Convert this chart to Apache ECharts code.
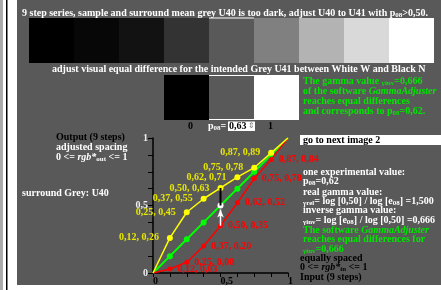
<!DOCTYPE html>
<html>
<head>
<meta charset="utf-8">
<script src="https://cdn.jsdelivr.net/npm/echarts@6/dist/echarts.min.js"></script>
<style>
  html, body { margin: 0; padding: 0; background: #fff; }
  #main { width: 441px; height: 290px; }
</style>
</head>
<body>
<div id="main"></div>
<script>
// 9 step series data
const inputX = [0, 0.125, 0.25, 0.375, 0.5, 0.625, 0.75, 0.875, 1];
const outYellow = [0, 0.26, 0.45, 0.55, 0.63, 0.71, 0.78, 0.89, 1];
const outGreen = [0, 0.125, 0.25, 0.375, 0.5, 0.625, 0.75, 0.875, 1];
const outRed = [0, 0.03, 0.08, 0.20, 0.35, 0.52, 0.70, 0.84, 1];
// grey steps of the strip and the three patches
const stepGreys = ['#000000', '#070707', '#121212', '#333333', '#595959', '#808080', '#b3b3b3', '#d9d9d9', '#ffffff'];
const patchGreys = ['#000000', '#595959', '#ffffff'];
const yTickLabels = { 0: '0', 0.5: '0,5', 1: '1' };
const xTickLabels = { 0: '0', 0.5: '0,5', 1: '1' };

const SURROUND = '#595959';
const SERIF = '"Liberation Serif", "DejaVu Serif", serif';

const chart = echarts.init(document.getElementById('main'), null, { renderer: 'canvas' });

// number like 0,12 (cut, not rounded)
function fmt(v) {
  return (Math.floor(v * 100 + 1e-9) / 100).toFixed(2).replace('.', ',');
}

function pairs(ys) {
  return inputX.map((x, i) => [x, ys[i]]);
}

// text helper for the graphic component
function txt(x, y, text, fill, extra) {
  return {
    type: 'text', x: x, y: y, z: 10,
    style: Object.assign({
      text: text, fill: fill,
      fontFamily: SERIF, fontWeight: 'bold', fontSize: 10,
      verticalAlign: 'middle'
    }, extra || {})
  };
}

const sub = { fontSize: 7, fontFamily: SERIF, fontWeight: 'bold', verticalAlign: 'bottom', lineHeight: 11, padding: [3, 0, 0, 0] };
function richStyle(fill) {
  return {
    a: { fontSize: 10, fontFamily: SERIF, fontWeight: 'bold', fill: fill, lineHeight: 11 },
    i: { fontSize: 10, fontFamily: SERIF, fontWeight: 'bold', fontStyle: 'italic', fill: fill, lineHeight: 11 },
    s: Object.assign({ fill: fill }, sub)
  };
}
function rtxt(x, y, text, fill) {
  return txt(x, y, text, fill, { rich: richStyle(fill) });
}

const graphics = [];
// left border lines
graphics.push({ type: 'rect', shape: { x: 0, y: 0, width: 3, height: 290 }, style: { fill: '#aaaaaa' }, z: 0 });
graphics.push({ type: 'rect', shape: { x: 6, y: 0, width: 1.5, height: 290 }, style: { fill: '#000' }, z: 0 });
// surround
graphics.push({ type: 'rect', shape: { x: 17, y: 0, width: 424, height: 285 }, style: { fill: SURROUND }, z: 0 });
// step strip
stepGreys.forEach((c, i) => {
  graphics.push({ type: 'rect', shape: { x: 29 + i * 45, y: 18, width: 45, height: 45 }, style: { fill: c }, z: 1 });
});
graphics.push({ type: 'rect', shape: { x: 209, y: 17.5, width: 45, height: 1 }, style: { fill: '#fff' }, z: 2 });
// patches
patchGreys.forEach((c, i) => {
  graphics.push({ type: 'rect', shape: { x: 164 + i * 45, y: 75, width: 45, height: 45 }, style: { fill: c }, z: 1 });
});
graphics.push({ type: 'rect', shape: { x: 209, y: 75, width: 45, height: 1 }, style: { fill: '#fff' }, z: 2 });
graphics.push({ type: 'rect', shape: { x: 209, y: 119, width: 45, height: 1 }, style: { fill: '#fff' }, z: 2 });

// titles
graphics.push(rtxt(22, 13, '{a|9 step series, sample and surround mean grey U40 is too dark, adjust U40 to U41 with p}{s|08}{a|>0,50.}', '#fff'));
graphics.push(txt(52, 69, 'adjust visual equal difference for the intended Grey U41 between White W and Black N', '#fff'));

// green note right of the patches
const GREEN = '#00e600';
graphics.push(rtxt(303, 81, '{a|The gamma value }{s|γinv}{a|=0,666}', GREEN));
graphics.push(rtxt(303, 91, '{a|of the software }{i|GammaAdjuster}', GREEN));
graphics.push(txt(303, 101, 'reaches equal differences', GREEN));
graphics.push(rtxt(303, 111, '{a|and corresponds to p}{s|08}{a|=0,62.}', GREEN));

// scale under the patches
graphics.push(txt(188, 126, '0', '#000'));
graphics.push(rtxt(208, 126, '{a|p}{s|08}{a|=}', '#fff'));
graphics.push({ type: 'rect', shape: { x: 228, y: 121.5, width: 27, height: 9.5 }, style: { fill: '#fff' }, z: 5 });
graphics.push(txt(229, 126, '0,63', '#000'));
graphics.push(txt(248, 126, '⇕', '#777', { fontFamily: '"DejaVu Sans"', fontWeight: 'normal', fontSize: 8 }));
graphics.push(txt(268, 126, '1', '#000'));

// left text
graphics.push(txt(56, 137, 'Output (9 steps)', '#000'));
graphics.push(txt(56, 147, 'adjusted spacing', '#fff'));
graphics.push(rtxt(56, 157, '{a|0 <= }{i|rgb*}{s|out}{a| <= 1}', '#fff'));
graphics.push(txt(22, 193, 'surround Grey: U40', '#fff'));

// right text
graphics.push({ type: 'rect', shape: { x: 300, y: 135, width: 141, height: 10 }, style: { fill: '#fff' }, z: 5 });
graphics.push(txt(303, 140, 'go to next image 2', '#000'));
graphics.push(txt(303, 172, 'one experimental value:', '#fff'));
graphics.push(rtxt(303, 181, '{a|p}{s|08}{a|=0,62}', '#fff'));
graphics.push(txt(303, 192, 'real gamma value:', '#fff'));
graphics.push(rtxt(303, 201, '{s|γrel}{a|= log [0,50] / log [e}{s|08}{a|] =1,500}', '#fff'));
graphics.push(txt(303, 210, 'inverse gamma value:', '#fff'));
graphics.push(rtxt(303, 220, '{s|γinv}{a|= log [e}{s|08}{a|] / log [0,50] =0,666}', '#fff'));
graphics.push(rtxt(303, 230, '{a|The software }{i|GammaAdjuster}', GREEN));
graphics.push(txt(303, 239, 'reaches equal differences for', GREEN));
graphics.push(rtxt(303, 249, '{s|γinv}{a|=0,666}', GREEN));
graphics.push(txt(300, 258, 'equally spaced', '#000'));
graphics.push(rtxt(300, 267, '{a|0 <= }{i|rgb*}{s|in}{a| <= 1}', '#000'));
graphics.push(txt(300, 277, 'Input (9 steps)', '#000'));

function endHidden(size) {
  return (val, params) => (params.dataIndex === 0 || params.dataIndex === inputX.length - 1 ? 0 : size);
}

const labelFont = { fontFamily: SERIF, fontWeight: 'bold', fontSize: 10 };

chart.setOption({
  animation: false,
  backgroundColor: '#fff',
  graphic: graphics,
  grid: {
    left: 153, top: 138, width: 135, height: 135,
    show: true, borderColor: '#000', borderWidth: 1.5, backgroundColor: 'transparent'
  },
  xAxis: {
    type: 'value', min: 0, max: 1, interval: 0.125,
    axisLine: { lineStyle: { color: '#000', width: 1.5 } },
    axisTick: { show: true, length: 4, lineStyle: { color: '#000' } },
    splitLine: { show: false },
    axisLabel: Object.assign({
      color: '#000', margin: 3, align: 'left',
      formatter: v => xTickLabels[v] || ''
    }, labelFont)
  },
  yAxis: {
    type: 'value', min: 0, max: 1, interval: 0.125,
    axisLine: { lineStyle: { color: '#000', width: 1.5 } },
    axisTick: { show: true, length: 5, lineStyle: { color: '#000' } },
    splitLine: { show: false },
    axisLabel: Object.assign({
      color: '#eee', margin: 5,
      formatter: v => yTickLabels[v] || ''
    }, labelFont)
  },
  series: [
    {
      name: 'equal', type: 'line', z: 2,
      data: pairs(outGreen).map((p, i) => (i === 4 ? { value: p, itemStyle: { color: '#fff' } } : p)),
      symbol: 'circle', symbolSize: endHidden(6),
      lineStyle: { color: '#00ff00', width: 2 },
      itemStyle: { color: '#00ff00' }
    },
    {
      name: 'red', type: 'line', z: 3,
      data: pairs(outRed),
      symbol: 'circle', symbolSize: endHidden(5),
      lineStyle: { color: '#ff0000', width: 1.5 },
      itemStyle: { color: '#ff0000' },
      label: Object.assign({
        show: true, position: 'right', distance: 5, color: '#ff0000',
        formatter: p => (p.dataIndex === 0 || p.dataIndex === 8 ? '' : fmt(p.value[0]) + ', ' + fmt(p.value[1]))
      }, labelFont)
    },
    {
      name: 'yellow', type: 'line', z: 4,
      data: pairs(outYellow),
      symbol: 'circle', symbolSize: endHidden(6),
      lineStyle: { color: '#ffff00', width: 1.5 },
      itemStyle: { color: '#ffff00' },
      label: Object.assign({
        show: true, position: 'left', distance: 8, color: '#e6e600',
        formatter: p => (p.dataIndex === 0 || p.dataIndex === 8 ? '' : fmt(p.value[0]) + ', ' + fmt(p.value[1]))
      }, labelFont)
    },
    {
      // black mark from mid grey up to the yellow point
      name: 'mark', type: 'line', z: 5, symbol: 'none',
      data: [[inputX[4], outGreen[4]], [inputX[4], outYellow[4]]],
      lineStyle: { color: '#000', width: 2 }
    },
    {
      // white arrow from the red point up to mid grey
      name: 'arrow', type: 'line', z: 5, showSymbol: true,
      data: [
        { value: [inputX[4], outRed[4]], symbol: 'none' },
        { value: [inputX[4], outGreen[4] - 0.03], symbol: 'arrow', symbolSize: [5, 8] }
      ],
      lineStyle: { color: '#fff', width: 1.5 },
      itemStyle: { color: '#fff' }
    }
  ]
});
</script>
</body>
</html>
